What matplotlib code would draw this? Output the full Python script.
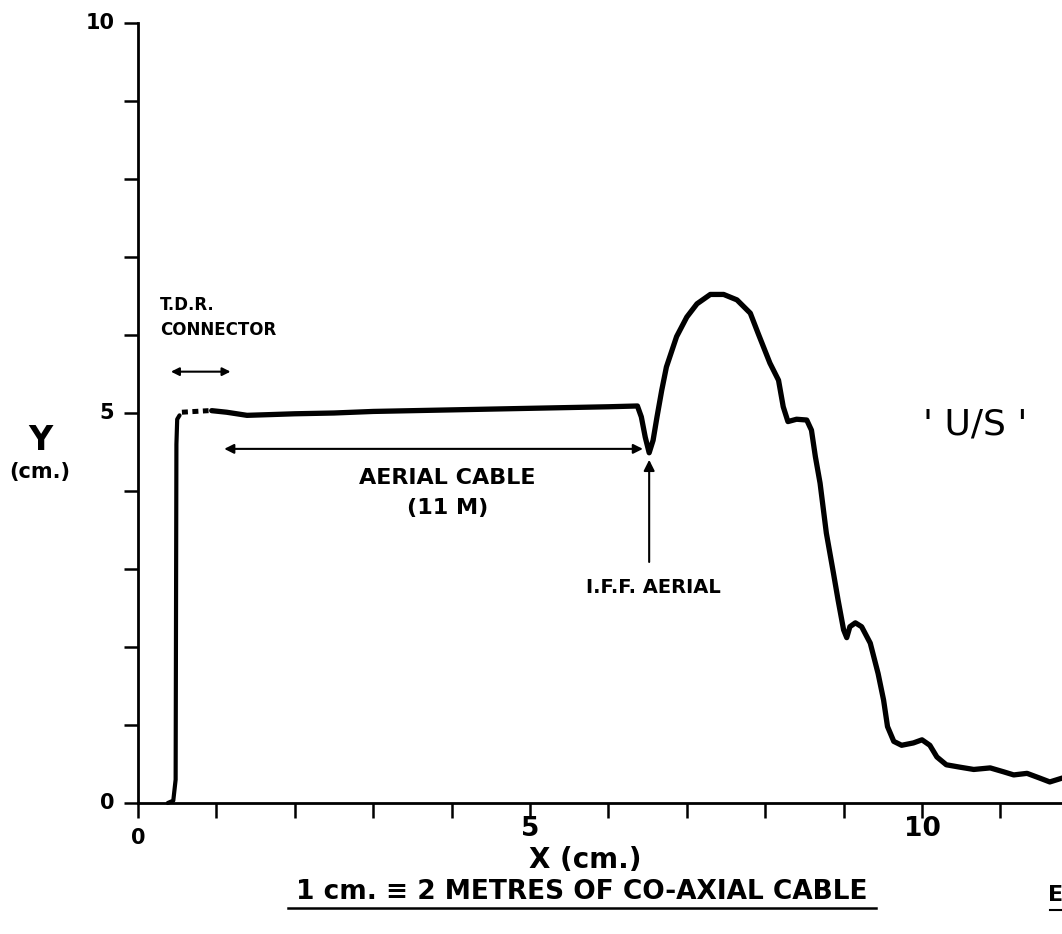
import matplotlib
matplotlib.use("Agg")
import matplotlib.pyplot as plt

# ---- data ----
rise_x = [0.38, 0.45, 0.48, 0.49, 0.50, 0.53]
rise_y = [0.00, 0.03, 0.30, 4.60, 4.92, 4.97]

dotted_x = [0.56, 0.90]
dotted_y = [5.01, 5.03]

trace_x = [0.94, 1.13, 1.39, 1.70, 2.00, 2.50, 3.00, 3.50, 4.00, 4.50, 5.00, 5.50, 6.00, 6.37,
           6.42, 6.47, 6.52, 6.57, 6.62, 6.68, 6.74, 6.87, 7.00, 7.13, 7.30, 7.47, 7.64, 7.81,
           7.91, 8.06, 8.17, 8.23, 8.29, 8.40, 8.53, 8.59, 8.64, 8.70, 8.78, 8.87, 8.93, 9.00,
           9.04, 9.08, 9.15, 9.23, 9.34, 9.44, 9.51, 9.56, 9.64, 9.74, 9.89, 10.00, 10.10, 10.19,
           10.31, 10.48, 10.66, 10.87, 11.04, 11.17, 11.34, 11.50, 11.63, 11.79]
trace_y = [5.03, 5.01, 4.97, 4.98, 4.99, 5.00, 5.02, 5.03, 5.04, 5.05, 5.06, 5.07, 5.08, 5.09,
           4.95, 4.69, 4.49, 4.65, 4.95, 5.29, 5.59, 5.98, 6.23, 6.40, 6.52, 6.52, 6.45, 6.28,
           6.02, 5.64, 5.42, 5.08, 4.89, 4.92, 4.91, 4.78, 4.44, 4.10, 3.46, 2.95, 2.60, 2.22,
           2.12, 2.26, 2.31, 2.26, 2.05, 1.66, 1.32, 0.98, 0.79, 0.74, 0.77, 0.81, 0.74, 0.59,
           0.49, 0.46, 0.43, 0.45, 0.40, 0.36, 0.38, 0.32, 0.27, 0.32]

x_ticks = list(range(0, 12))
y_ticks = list(range(0, 11))
x_ticklabels = {0: "0", 5: "5", 10: "10"}
y_ticklabels = {0: "0", 5: "5", 10: "10"}

W, H = 1062, 934
fig = plt.figure(figsize=(W / 100, H / 100), dpi=100)
x0px, y0px, ppu_x, ppu_y = 138, 803, 78.4, 78.0
xmax = (W - x0px) / ppu_x
ax = fig.add_axes([x0px / W, 1 - y0px / H, 1 - x0px / W, 10 * ppu_y / H])
ax.set_xlim(0, xmax)
ax.set_ylim(0, 10)

for s in ["top", "right"]:
    ax.spines[s].set_visible(False)
for s in ["left", "bottom"]:
    ax.spines[s].set_linewidth(2.0)
    ax.spines[s].set_color("black")
ax.spines["left"].set_bounds(0, 10)

ax.set_xticks(x_ticks)
ax.set_yticks(y_ticks)
ax.set_xticklabels([""] * len(x_ticks))
ax.set_yticklabels([""] * len(y_ticks))
ax.tick_params(axis="x", direction="out", length=11, width=1.8)
ax.tick_params(axis="y", direction="out", length=10, width=1.8)

tfont = dict(family="DejaVu Sans", weight="bold", color="black")
xlab_pos = {0: (838, 15), 5: (829, 19), 10: (829, 19)}
for v, s in x_ticklabels.items():
    ypx, fs = xlab_pos[v]
    ax.text(v, -(ypx - y0px) / ppu_y, s, ha="center", va="center", fontsize=fs, **tfont,
            clip_on=False)
for v, s in y_ticklabels.items():
    ax.text(-0.30, v, s, ha="right", va="center", fontsize=15, **tfont, clip_on=False)

# curve
ax.plot(rise_x, rise_y, color="black", lw=3.0, solid_capstyle="round", clip_on=False)
ax.plot(dotted_x, dotted_y, color="black", lw=3.6, ls=(0, (1.2, 0.9)), clip_on=False)
ax.plot(trace_x, trace_y, color="black", lw=3.8, solid_joinstyle="round",
        solid_capstyle="round", clip_on=False)

# annotations
ax.text(0.28, 6.23, "T.D.R.\nCONNECTOR", ha="left", va="center", fontsize=12,
        linespacing=1.5, **tfont)
ax.annotate("", xy=(0.42, 5.53), xytext=(1.18, 5.53),
            arrowprops=dict(arrowstyle="<|-|>", color="black", lw=1.5,
                            mutation_scale=12, shrinkA=0, shrinkB=0))
ax.annotate("", xy=(1.10, 4.54), xytext=(6.44, 4.54),
            arrowprops=dict(arrowstyle="<|-|>", color="black", lw=1.5,
                            mutation_scale=14, shrinkA=0, shrinkB=0))
ax.text(3.95, 4.17, "AERIAL CABLE", ha="center", va="center", fontsize=16, **tfont)
ax.text(3.95, 3.78, "(11 M)", ha="center", va="center", fontsize=16, **tfont)
ax.annotate("", xy=(6.52, 4.40), xytext=(6.52, 3.09),
            arrowprops=dict(arrowstyle="-|>", color="black", lw=1.5,
                            mutation_scale=16, shrinkA=0, shrinkB=0))
ax.text(6.57, 2.76, "I.F.F. AERIAL", ha="center", va="center", fontsize=14, **tfont)
ax.text(10.68, 4.85, "' U/S '", ha="center", va="center", fontsize=26,
        family="DejaVu Sans", color="black")

# axis labels
fig.text(40 / W, 1 - 440 / H, "Y", ha="center", va="center", fontsize=24, **tfont)
fig.text(40 / W, 1 - 472 / H, "(cm.)", ha="center", va="center", fontsize=15, **tfont)
fig.text(585 / W, 1 - 860 / H, "X (cm.)", ha="center", va="center", fontsize=20, **tfont)

fig.text(582 / W, 1 - 892 / H, "1 cm. \u2261 2 METRES OF CO-AXIAL CABLE", ha="center",
         va="center", fontsize=19, **tfont)
fig.add_artist(plt.Line2D([288 / W, 876 / W], [1 - 908 / H, 1 - 908 / H],
                          color="black", lw=1.8, transform=fig.transFigure))
fig.text(1048 / W, 1 - 895 / H, "E", ha="left", va="center", fontsize=16, **tfont)
fig.add_artist(plt.Line2D([1050 / W, 1062 / W], [1 - 910 / H, 1 - 910 / H],
                          color="black", lw=1.5, transform=fig.transFigure))

fig.savefig("out.png", dpi=100, facecolor="white")
